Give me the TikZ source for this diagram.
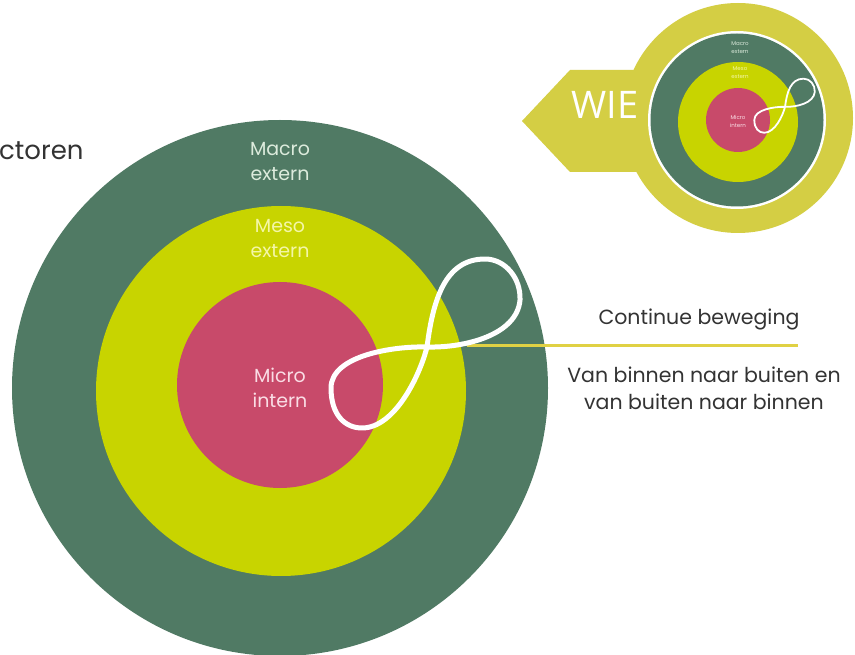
\documentclass[tikz,border=0pt]{standalone}
\usepackage{fontspec}
\setmainfont{Poppins}
\newfontfamily\wiefont{Open Sans}
\definecolor{darkgreen}{HTML}{507A64}
\definecolor{lime}{HTML}{C8D400}
\definecolor{rose}{HTML}{C84A6A}
\definecolor{olive}{HTML}{D4CE44}
\definecolor{linecol}{HTML}{E0D144}
\definecolor{greentext}{HTML}{DCEBDC}
\definecolor{limetext}{HTML}{F4F6A8}
\definecolor{rosetext}{HTML}{FADDE5}
\definecolor{bodytext}{HTML}{333333}
\newcommand\myinfinitypath{(427,347) .. controls (433,300) and (445,259) .. (485,259)
      .. controls (505,259) and (521,278) .. (520,300)
      .. controls (517,335) and (465,348) .. (427,347)
      .. controls (395,346) and (331,355) .. (331,388)
      .. controls (331,415) and (345,428) .. (362,428)
      .. controls (395,428) and (420,375) .. cycle}
\tikzset{
  disc/.style={circle, inner sep=0pt, outer sep=0pt},
  biglabel/.style={align=center, font=\fontsize{19}{25}\selectfont, inner sep=0pt},
  smalllabel/.style={align=center, font=\fontsize{5.5}{8}\selectfont, inner sep=0pt},
  sidetext/.style={text=bodytext, font=\fontsize{20.5}{27}\selectfont, align=center, inner sep=0pt},
  infinity/.style={draw=white, line width=5pt, line join=round},
}
\begin{document}
\begin{tikzpicture}[x=1pt,y=-1pt]
\useasboundingbox (0,0) rectangle (855,655);
\fill[white] (0,0) rectangle (855,655);

% title fragment
\node[text=bodytext, font=\fontsize{26}{30}\selectfont, anchor=base west, inner sep=0pt] (title) at (-1,160) {ctoren};

% big diagram
\begin{scope}
\clip (0,0) rectangle (855,655);
\node[disc, fill=darkgreen, minimum size=536pt] (macro) at (280,388) {};
\end{scope}
\node[disc, fill=lime, minimum size=370pt] (meso) at (281,391) {};
\node[disc, fill=rose, minimum size=206pt] (micro) at (280,385) {};

\node[biglabel, text=greentext] (macrolbl) at (280,162) {Macro\\extern};
\node[biglabel, text=limetext] (mesolbl) at (280,239) {Meso\\extern};
\node[biglabel, text=rosetext] (microlbl) at (280,388) {Micro\\intern};

% connector line
\coordinate (lineA) at (467,346);
\coordinate (lineB) at (798,346);
\draw[linecol, line width=3pt] (lineA) -- (lineB);

% infinity loop
\draw[infinity] \myinfinitypath;

\node[sidetext] (cont) at (699,319) {Continue beweging};
\node[sidetext] (vanbinnen) at (704,388) {Van binnen naar buiten en\\van buiten naar binnen};

% small icon
\node[disc, fill=olive, minimum size=230pt] (ring) at (738,118) {};
\fill[olive] (522,121) -- (570,70) -- (700,70) -- (700,172) -- (570,172) -- cycle;
\node[text=white, font=\wiefont\fontsize{38}{38}\selectfont, anchor=base, inner sep=0pt] (wie) at (605,119) {WIE};
\node[disc, fill=white, minimum size=178pt] (swhite) at (737,120) {};
\node[disc, fill=darkgreen, minimum size=173pt] (smacro) at (737,120) {};
\node[disc, fill=lime, minimum size=120pt] (smeso) at (738,122) {};
\node[disc, fill=rose, minimum size=64pt] (smicro) at (738,120) {};
\node[smalllabel, text=greentext] (smacrolbl) at (740,48) {Macro\\extern};
\node[smalllabel, text=limetext] (smesolbl) at (740,73) {Meso\\extern};
\node[smalllabel, text=rosetext] (smicrolbl) at (738,121) {Micro\\intern};
\begin{scope}[shift={(738,119)}, scale=0.32, shift={(-280,-385)}]
\draw[infinity, line width=1.8pt] \myinfinitypath;
\end{scope}
\end{tikzpicture}
\end{document}
